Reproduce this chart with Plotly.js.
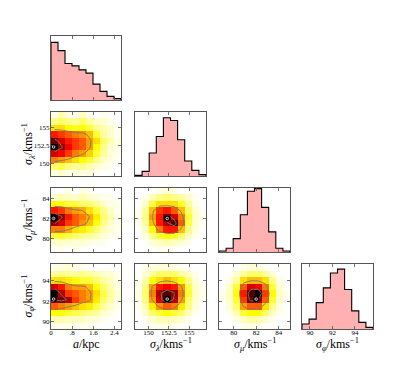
<!DOCTYPE html>
<html>
<head>
<meta charset="utf-8">
<script src="https://cdn.plot.ly/plotly-3.0.1.min.js"></script>
<style>html,body{margin:0;padding:0;background:#fff;}#chart{width:415px;height:366px;}</style>
</head>
<body>
<div id="chart"></div>
<script>
// ---------- data ----------
const aRange = [0, 2.65];
const lamRange = [148.35, 157.05];
const muRange = [78.7, 85.0];
const phiRange = [89.3, 95.6];

const aTicks = [0, 0.8, 1.6, 2.4];
const aTickText = ['0', '.8', '1.6', '2.4'];
const lamTicks = [150, 152.5, 155];
const lamTickText = ['150', '152.5', '155'];
const muTicks = [80, 82, 84];
const muTickText = ['80', '82', '84'];
const phiTicks = [90, 92, 94];
const phiTickText = ['90', '92', '94'];

const varTitles = [
  '<i>a</i>/kpc',
  '<i>σ</i><sub><i>λ</i></sub>/kms<sup>−1</sup>',
  '<i>σ</i><sub><i>μ</i></sub>/kms<sup>−1</sup>',
  '<i>σ</i><sub><i>φ</i></sub>/kms<sup>−1</sup>'
];

// 1D histograms (10 bins across each axis range)
const histA   = [174, 149, 110, 103, 91, 81, 48, 26, 11, 4];
const histLam = [2, 14, 69, 119, 175, 167, 109, 45, 17, 4];
const histMu  = [3, 11, 40, 111, 181, 189, 133, 60, 11, 3];
const histPhi = [15, 30, 80, 125, 170, 182, 120, 55, 20, 5];

// best-fit / truth values
const truthValues = [0.1, 152.3, 82.0, 92.2];

// 2D histograms, rows listed from TOP (high y) to BOTTOM, columns low x -> high x
const zALam = [
  [0.02,0.08,0.03,0.02,0.06,0.02,0,0.02,0,0],
  [0.12,0.15,0.12,0.10,0.15,0.10,0.05,0.05,0.02,0],
  [0.30,0.30,0.25,0.22,0.25,0.20,0.12,0.08,0.05,0.02],
  [0.60,0.55,0.50,0.45,0.42,0.35,0.20,0.10,0.05,0.02],
  [0.85,0.70,0.60,0.55,0.50,0.40,0.30,0.15,0.08,0.03],
  [1.00,0.80,0.65,0.55,0.50,0.40,0.25,0.12,0.05,0.02],
  [0.70,0.65,0.55,0.45,0.40,0.32,0.20,0.10,0.04,0.02],
  [0.45,0.40,0.35,0.30,0.25,0.20,0.12,0.06,0.03,0.01],
  [0.15,0.18,0.12,0.10,0.12,0.08,0.05,0.03,0.01,0],
  [0.03,0.05,0.02,0.03,0.02,0.04,0.01,0,0,0]
];
const zAMu = [
  [0,0,0.02,0,0.03,0.02,0,0,0,0],
  [0.05,0.08,0.06,0.05,0.08,0.05,0.04,0.02,0.02,0],
  [0.25,0.25,0.20,0.20,0.15,0.15,0.10,0.06,0.03,0.02],
  [0.60,0.55,0.45,0.40,0.38,0.30,0.20,0.12,0.05,0.02],
  [1.00,0.80,0.60,0.50,0.45,0.38,0.28,0.15,0.08,0.03],
  [0.80,0.70,0.55,0.50,0.42,0.35,0.25,0.12,0.06,0.02],
  [0.45,0.45,0.38,0.30,0.28,0.22,0.14,0.08,0.04,0.02],
  [0.20,0.22,0.18,0.15,0.12,0.10,0.08,0.04,0.02,0.01],
  [0.05,0.06,0.05,0.04,0.05,0.03,0.02,0.02,0,0],
  [0,0.02,0,0.02,0,0,0,0,0,0]
];
const zAPhi = [
  [0.02,0.03,0.05,0.02,0.02,0,0,0,0,0],
  [0.10,0.12,0.10,0.10,0.12,0.10,0.08,0.05,0.05,0.02],
  [0.30,0.30,0.28,0.25,0.20,0.20,0.15,0.10,0.06,0.03],
  [0.70,0.60,0.45,0.40,0.40,0.35,0.25,0.15,0.08,0.03],
  [1.00,0.75,0.55,0.50,0.45,0.40,0.30,0.18,0.10,0.04],
  [0.80,0.85,0.75,0.55,0.45,0.40,0.28,0.15,0.08,0.03],
  [0.50,0.45,0.40,0.35,0.30,0.28,0.18,0.10,0.05,0.02],
  [0.25,0.25,0.20,0.18,0.15,0.12,0.10,0.05,0.03,0.01],
  [0.08,0.08,0.07,0.06,0.06,0.04,0.04,0.02,0.01,0],
  [0.02,0.02,0.03,0.02,0.02,0.02,0,0,0,0]
];
const zLamMu = [
  [0,0,0,0.02,0.04,0.02,0,0,0,0],
  [0,0.02,0.08,0.12,0.15,0.12,0.10,0.05,0.02,0],
  [0,0.05,0.20,0.30,0.30,0.30,0.22,0.10,0.03,0],
  [0.02,0.10,0.35,0.55,0.60,0.50,0.35,0.15,0.05,0.01],
  [0.02,0.12,0.40,0.60,0.85,0.70,0.45,0.20,0.06,0.02],
  [0.02,0.10,0.35,0.60,0.75,0.90,0.50,0.18,0.05,0.01],
  [0,0.06,0.25,0.45,0.60,0.60,0.35,0.12,0.04,0],
  [0,0.03,0.12,0.20,0.25,0.22,0.15,0.06,0.02,0],
  [0,0.01,0.04,0.06,0.08,0.06,0.05,0.02,0,0],
  [0,0,0,0.02,0.02,0.01,0,0,0,0]
];
const zLamPhi = [
  [0,0.02,0.03,0.04,0.04,0.03,0.02,0,0,0],
  [0,0.04,0.10,0.15,0.15,0.15,0.10,0.06,0.02,0],
  [0.02,0.08,0.25,0.30,0.35,0.30,0.25,0.12,0.04,0],
  [0.02,0.12,0.40,0.60,0.65,0.60,0.40,0.18,0.06,0.02],
  [0.03,0.15,0.45,0.75,0.90,0.80,0.45,0.20,0.06,0.02],
  [0.02,0.12,0.40,0.70,1.00,0.75,0.40,0.15,0.05,0.01],
  [0.02,0.08,0.28,0.42,0.50,0.45,0.28,0.12,0.04,0],
  [0,0.05,0.15,0.20,0.25,0.20,0.15,0.06,0.02,0],
  [0,0.02,0.05,0.08,0.08,0.07,0.05,0.02,0,0],
  [0,0,0.02,0.02,0.03,0.02,0,0,0,0]
];
const zMuPhi = [
  [0,0,0,0.02,0.04,0.03,0.02,0,0,0],
  [0,0,0.05,0.10,0.15,0.15,0.10,0.04,0,0],
  [0,0.03,0.10,0.30,0.35,0.35,0.30,0.12,0.03,0],
  [0,0.05,0.20,0.50,0.70,0.65,0.45,0.20,0.05,0],
  [0.02,0.06,0.25,0.60,0.90,1.00,0.55,0.25,0.06,0.02],
  [0.02,0.05,0.20,0.55,0.85,0.80,0.50,0.20,0.05,0.01],
  [0,0.04,0.15,0.40,0.50,0.50,0.30,0.12,0.03,0],
  [0,0.02,0.08,0.20,0.25,0.25,0.15,0.06,0.02,0],
  [0,0,0.03,0.06,0.10,0.08,0.05,0.02,0,0],
  [0,0,0,0.02,0.03,0.02,0,0,0,0]
];

// ---------- build ----------
const W = 415, H = 366;
const colPx = [[51,121],[135,206],[219,290],[302,373]];
const rowPx = [[36,100],[112,176],[188,252],[264,329]];
const ranges = [aRange, lamRange, muRange, phiRange];
const tickVals = [aTicks, lamTicks, muTicks, phiTicks];
const tickTexts = [aTickText, lamTickText, muTickText, phiTickText];
const hists = [histA, histLam, histMu, histPhi];
const histTopFactor = [1.11, 1.1, 1.01, 1.085];
const zData = {'1,0': zALam, '2,0': zAMu, '3,0': zAPhi, '2,1': zLamMu, '3,1': zLamPhi, '3,2': zMuPhi};

function edges(r, n) { const e=[]; for (let i=0;i<=n;i++) e.push(r[0]+(r[1]-r[0])*i/n); return e; }
function centers(r, n) { const c=[]; for (let i=0;i<n;i++) c.push(r[0]+(r[1]-r[0])*(i+0.5)/n); return c; }

const hotR = [[0,'rgb(255,255,255)'],[0.254,'rgb(255,255,0)'],[0.635,'rgb(255,0,0)'],[1,'rgb(11,0,0)']];
const tickFont = {family: 'Liberation Serif', size: 7, color: '#000'};
const lineCol = '#555';

const traces = [];
const layout = {
  width: W, height: H,
  margin: {l:0, r:0, t:0, b:0},
  paper_bgcolor: '#fff', plot_bgcolor: '#fff',
  showlegend: false,
  annotations: []
};

let k = 0;
for (let i = 0; i < 4; i++) {
  for (let j = 0; j <= i; j++) {
    k++;
    const xn = k === 1 ? 'x' : 'x' + k;
    const yn = k === 1 ? 'y' : 'y' + k;
    const xa = k === 1 ? 'xaxis' : 'xaxis' + k;
    const ya = k === 1 ? 'yaxis' : 'yaxis' + k;
    const xdom = [colPx[j][0]/W, colPx[j][1]/W];
    const ydom = [1 - rowPx[i][1]/H, 1 - rowPx[i][0]/H];
    const common = {showline:true, mirror:'allticks', linecolor:lineCol, linewidth:1,
      showgrid:false, zeroline:false, ticks:'inside', ticklen:3, tickwidth:0.8, tickcolor:lineCol,
      tickfont: tickFont, fixedrange:true};
    layout[xa] = Object.assign({}, common, {domain: xdom, anchor: yn, range: ranges[j],
      tickmode:'array', tickvals: tickVals[j], ticktext: tickTexts[j], showticklabels: i === 3,
      ticklabelstandoff: -3});
    if (i === j) {
      const h = hists[i];
      const e = edges(ranges[i], h.length);
      const xs = [e[0]], ys = [0];
      for (let b = 0; b < h.length; b++) { xs.push(e[b], e[b+1]); ys.push(h[b], h[b]); }
      xs.push(e[h.length]); ys.push(0);
      traces.push({type:'scatter', mode:'lines', x: xs, y: ys, xaxis: xn, yaxis: yn,
        fill:'tozeroy', fillcolor:'rgb(255,176,176)', line:{color:'#000', width:1.1}, hoverinfo:'skip'});
      layout[ya] = Object.assign({}, common, {domain: ydom, anchor: xn,
        range: [0, Math.max(...h) * histTopFactor[i]], ticks:'', showticklabels:false});
    } else {
      const zTop = zData[i + ',' + j];
      const z = zTop.slice().reverse();
      const xc = centers(ranges[j], z[0].length);
      const yc = centers(ranges[i], z.length);
      traces.push({type:'heatmap', x: xc, y: yc, z: z, xaxis: xn, yaxis: yn,
        colorscale: hotR, zmin: 0, zmax: 1, showscale: false, zsmooth: false, hoverinfo:'skip'});
      traces.push({type:'contour', x: xc, y: yc, z: z, xaxis: xn, yaxis: yn, showscale:false,
        contours: {coloring:'none', start:0.38, end:0.78, size:0.4, showlabels:false},
        line: {color:'rgb(120,120,120)', width:1, smoothing:0}, hoverinfo:'skip'});
      traces.push({type:'scatter', mode:'markers', x:[truthValues[j]], y:[truthValues[i]], xaxis: xn, yaxis: yn,
        marker:{symbol:'circle', size:6.5, color:'#000'}, hoverinfo:'skip'});
      traces.push({type:'scatter', mode:'markers', x:[truthValues[j]], y:[truthValues[i]], xaxis: xn, yaxis: yn,
        marker:{symbol:'circle-open', size:2.5, color:'#fff', line:{color:'#fff', width:0.8}}, hoverinfo:'skip'});
      layout[ya] = Object.assign({}, common, {domain: ydom, anchor: xn, range: ranges[i],
        tickmode:'array', tickvals: tickVals[i], ticktext: tickTexts[i], showticklabels: j === 0,
        ticklabelstandoff: -1});
    }
  }
}

// axis titles as annotations
const titleFont = {family: 'Liberation Serif', size: 12, color: '#000'};
for (let i = 1; i < 4; i++) {
  layout.annotations.push({xref:'paper', yref:'paper', x: 28/W, y: 1 - (rowPx[i][0]+rowPx[i][1])/2/H,
    text: varTitles[i], textangle: -90, showarrow:false, font: titleFont, xanchor:'center', yanchor:'middle'});
}
for (let j = 0; j < 4; j++) {
  layout.annotations.push({xref:'paper', yref:'paper', x: (colPx[j][0]+colPx[j][1])/2/W, y: 1 - 344/H,
    text: varTitles[j], showarrow:false, font: titleFont, xanchor:'center', yanchor:'middle'});
}

Plotly.newPlot('chart', traces, layout, {staticPlot: true});
</script>
</body>
</html>
